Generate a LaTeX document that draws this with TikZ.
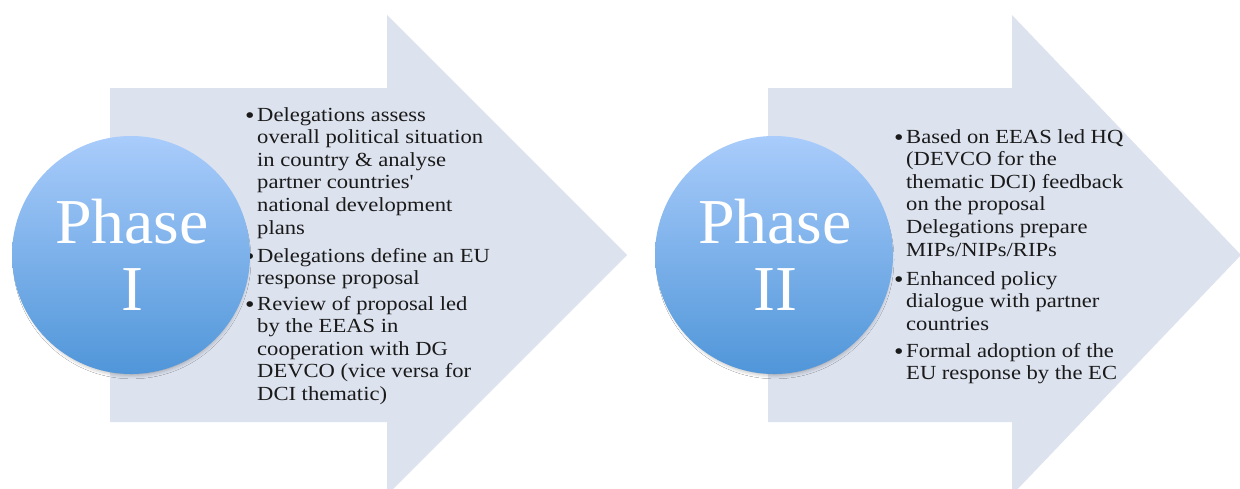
\documentclass[tikz,border=0pt]{standalone}
\usepackage{fontspec}
\setmainfont{Liberation Serif}[FakeStretch=1.13]
\newfontfamily\phasefont{Liberation Serif}[FakeStretch=1.03]
\usepackage{graphicx}
\usetikzlibrary{shadows.blur}
\definecolor{arrowfill}{HTML}{DCE2EE}
\definecolor{circtop}{HTML}{A9CCFB}
\definecolor{circbot}{HTML}{5096D9}
\definecolor{txt}{HTML}{1A1A1A}
\newcommand{\blt}{\raisebox{-2.6pt}{\fontsize{24}{24}\selectfont\textbullet}}
\begin{document}
\begin{tikzpicture}[x=1pt,y=-1pt,
  arrowshape/.style={fill=arrowfill,draw=none},
  phasecircle/.style={circle,minimum size=238pt,inner sep=0pt,top color=circtop,bottom color=circbot,draw=none,
    blur shadow={shadow xshift=1pt,shadow yshift=-5pt,shadow scale=0.96,shadow blur radius=5pt,shadow opacity=40}},
  phaselabel/.style={anchor=base,inner sep=0pt,text=white,font=\phasefont\fontsize{64}{67}\selectfont},
  itemtext/.style={anchor=base west,inner sep=0pt,text=txt,font=\fontsize{20}{22.6}\selectfont}]
\useasboundingbox (0,0) rectangle (1240,488);
\clip (0,0) rectangle (1240,488);
\fill[white] (0,0) rectangle (1240,488);
% arrows
\path[arrowshape] (110,88) -- (387,88) -- (387,15) -- (627,255) -- (387,495) -- (387,422) -- (110,422) -- cycle;
\path[arrowshape] (768,88) -- (1012,88) -- (1012,15) -- (1241,255) -- (1012,495) -- (1012,422) -- (768,422) -- cycle;
% Phase I items
\node[itemtext] (pa) at (245,121) {\begin{tabular}[t]{@{}p{12pt}@{}l@{}}\blt & Delegations assess\\ & overall political situation\\ & in country \& analyse\\ & partner countries\textquotesingle\\ & national development\\ & plans\end{tabular}};
\node[itemtext] (pb) at (245,262) {\begin{tabular}[t]{@{}p{12pt}@{}l@{}}\blt & Delegations define an EU\\ & response proposal\end{tabular}};
\node[itemtext] (pc) at (245,310) {\begin{tabular}[t]{@{}p{12pt}@{}l@{}}\blt & Review of proposal led\\ & by the EEAS in\\ & cooperation with DG\\ & DEVCO (vice versa for\\ & DCI thematic)\end{tabular}};
% Phase II items
\node[itemtext] (qa) at (894,143) {\begin{tabular}[t]{@{}p{12pt}@{}l@{}}\blt & Based on EEAS led HQ\\ & (DEVCO for the\\ & thematic DCI) feedback\\ & on the proposal\\ & Delegations prepare\\ & MIPs/NIPs/RIPs\end{tabular}};
\node[itemtext] (qb) at (894,285) {\begin{tabular}[t]{@{}p{12pt}@{}l@{}}\blt & Enhanced policy\\ & dialogue with partner\\ & countries\end{tabular}};
\node[itemtext] (qc) at (894,357) {\begin{tabular}[t]{@{}p{12pt}@{}l@{}}\blt & Formal adoption of the\\ & EU response by the EC\end{tabular}};
% circles
\node[phasecircle] (c1) at (131,255) {};
\node[phasecircle] (c2) at (774,255) {};
\node[phaselabel] (l1) at (132,243) {\begin{tabular}[t]{@{}c@{}}Phase\\I\end{tabular}};
\node[phaselabel] (l2) at (775,243) {\begin{tabular}[t]{@{}c@{}}Phase\\II\end{tabular}};
\end{tikzpicture}
\end{document}
